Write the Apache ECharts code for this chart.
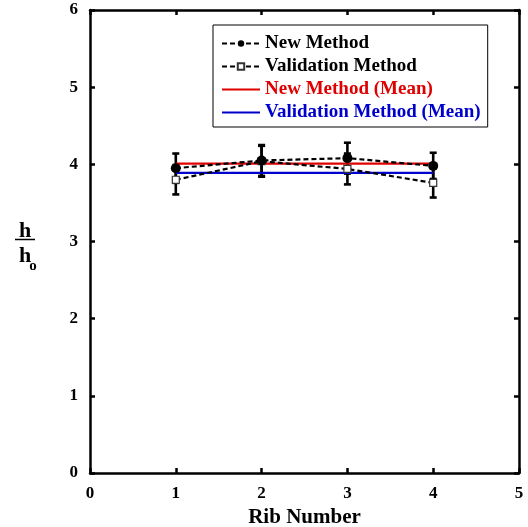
<!DOCTYPE html>
<html>
<head>
<meta charset="utf-8">
<script src="https://cdn.jsdelivr.net/npm/echarts@6/dist/echarts.min.js"></script>
<style>html,body{margin:0;padding:0;background:#fff}#c{width:528px;height:527px}</style>
</head>
<body>
<div id="c"></div>
<script>
const ribs = [1, 2, 3, 4];
const newMethod = [3.95, 4.05, 4.08, 3.98];
const newErr = [0.19, 0.20, 0.20, 0.17];
const valMethod = [3.80, 4.04, 3.94, 3.76];
const valErr = [0.19, 0.20, 0.20, 0.19];
const newMean = 4.01;
const valMean = 3.89;
const xTicks = [0, 1, 2, 3, 4, 5];
const yTicks = [0, 1, 2, 3, 4, 5, 6];

const FONT = '"Liberation Serif", "Times New Roman", serif';
const LINE_ICON = 'path://M0,0 L40,0 L40,2.2 L0,2.2 Z';

function errSeries(vals, errs) {
  return {
    type: 'custom',
    silent: true,
    data: ribs.map((r, i) => [r, vals[i] - errs[i], vals[i] + errs[i]]),
    renderItem: function (params, api) {
      const lo = api.coord([api.value(0), api.value(1)]);
      const hi = api.coord([api.value(0), api.value(2)]);
      const w = 3.5;
      const st = { stroke: '#000', lineWidth: 2.6 };
      return {
        type: 'group',
        children: [
          { type: 'line', shape: { x1: lo[0], y1: lo[1], x2: hi[0], y2: hi[1] }, style: st },
          { type: 'line', shape: { x1: lo[0] - w, y1: lo[1], x2: lo[0] + w, y2: lo[1] }, style: st },
          { type: 'line', shape: { x1: hi[0] - w, y1: hi[1], x2: hi[0] + w, y2: hi[1] }, style: st }
        ]
      };
    },
    z: 1
  };
}

const axisLineStyle = { color: '#000', width: 2.5 };
const tickStyle = { show: true, inside: true, length: 5, lineStyle: { color: '#000', width: 2.5 } };
const labelBase = { fontFamily: FONT, fontWeight: 'bold', fontSize: 17, color: '#000' };

const chart = echarts.init(document.getElementById('c'));
chart.setOption({
  animation: false,
  backgroundColor: '#fff',
  grid: { left: 90, right: 9, top: 10, bottom: 54, containLabel: false, outerBoundsMode: 'none' },
  xAxis: [{
    type: 'value', min: 0, max: 5, interval: 1,
    name: 'Rib Number', nameLocation: 'middle', nameGap: 32,
    nameTextStyle: { fontFamily: FONT, fontWeight: 'bold', fontSize: 21, color: '#000' },
    axisLine: { show: true, onZero: false, lineStyle: axisLineStyle },
    axisTick: tickStyle,
    axisLabel: Object.assign({ margin: 12, formatter: v => xTicks.includes(v) ? String(v) : '' }, labelBase),
    splitLine: { show: false }
  }, {
    type: 'value', min: 0, max: 5, interval: 1, position: 'top',
    axisLine: { show: true, onZero: false, lineStyle: axisLineStyle },
    axisTick: tickStyle,
    axisLabel: { show: false }, splitLine: { show: false }
  }],
  yAxis: [{
    type: 'value', min: 0, max: 6, interval: 1,
    axisLine: { show: true, onZero: false, lineStyle: axisLineStyle },
    axisTick: tickStyle,
    axisLabel: Object.assign({ margin: 12, formatter: v => yTicks.includes(v) ? String(v) : '' }, labelBase),
    splitLine: { show: false }
  }, {
    type: 'value', min: 0, max: 6, interval: 1, position: 'right',
    axisLine: { show: true, onZero: false, lineStyle: axisLineStyle },
    axisTick: tickStyle,
    axisLabel: { show: false }, splitLine: { show: false }
  }],
  legend: {
    orient: 'vertical', left: 213, top: 25,
    backgroundColor: '#fff',
    borderColor: '#000', borderWidth: 1, borderRadius: 0,
    padding: [9, 7, 5, 8],
    itemWidth: 38, itemHeight: 8, itemGap: 4,
    textStyle: { fontFamily: FONT, fontWeight: 'bold', fontSize: 19, color: '#000', padding: [0, 0, 0, 0] },
    data: [
      { name: 'New Method', textStyle: { color: '#000' } },
      { name: 'Validation Method', textStyle: { color: '#000' } },
      { name: 'New Method (Mean)', icon: LINE_ICON, textStyle: { color: '#e00000' } },
      { name: 'Validation Method (Mean)', icon: LINE_ICON, textStyle: { color: '#0000cc' } }
    ]
  },
  graphic: [
    { type: 'text', x: 25, y: 231, style: { text: 'h', font: 'bold 22px ' + FONT, fill: '#000', align: 'center', verticalAlign: 'middle' } },
    { type: 'line', shape: { x1: 15, y1: 239.5, x2: 35, y2: 239.5 }, style: { stroke: '#000', lineWidth: 1.5 } },
    { type: 'text', x: 25, y: 256, style: { text: 'h', font: 'bold 22px ' + FONT, fill: '#000', align: 'center', verticalAlign: 'middle' } },
    { type: 'text', x: 33, y: 266, style: { text: 'o', font: 'bold 15px ' + FONT, fill: '#000', align: 'center', verticalAlign: 'middle' } }
  ],
  series: [
    errSeries(newMethod, newErr),
    errSeries(valMethod, valErr),
    {
      name: 'New Method (Mean)', type: 'line',
      data: [[ribs[0], newMean], [ribs[ribs.length - 1], newMean]],
      showSymbol: false, symbol: 'none',
      lineStyle: { color: '#e00000', width: 2.2 }, itemStyle: { color: '#e00000' }, z: 2
    },
    {
      name: 'Validation Method (Mean)', type: 'line',
      data: [[ribs[0], valMean], [ribs[ribs.length - 1], valMean]],
      showSymbol: false, symbol: 'none',
      lineStyle: { color: '#0000cc', width: 2.2 }, itemStyle: { color: '#0000cc' }, z: 2
    },
    {
      name: 'Validation Method', type: 'line',
      data: ribs.map((r, i) => [r, valMethod[i]]),
      symbol: 'rect', symbolSize: 7,
      lineStyle: { color: '#000', width: 2.2, type: [5, 3] },
      itemStyle: { color: '#fff', borderColor: '#333', borderWidth: 1.2 }, z: 3
    },
    {
      name: 'New Method', type: 'line',
      data: ribs.map((r, i) => [r, newMethod[i]]),
      symbol: 'circle', symbolSize: 10,
      lineStyle: { color: '#000', width: 2.2, type: [5, 3] },
      itemStyle: { color: '#000' }, z: 4
    }
  ]
});
</script>
</body>
</html>
